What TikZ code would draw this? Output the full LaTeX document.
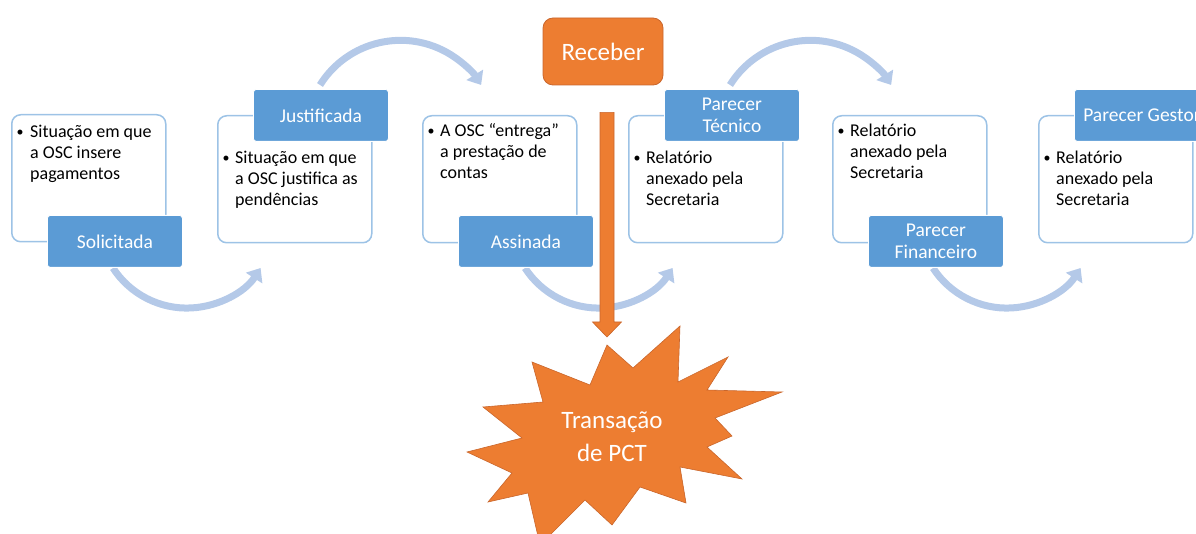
\documentclass[tikz,border=0pt]{standalone}
\usepackage{fontspec}
\setmainfont{Carlito}
\usetikzlibrary{arrows.meta,calc}
\definecolor{lblue}{HTML}{5B9BD5}
\definecolor{bline}{HTML}{9DC3E6}
\definecolor{flowc}{RGB}{180,201,232}
\definecolor{orng}{HTML}{ED7D31}
\definecolor{orngd}{HTML}{C9662C}
\begin{document}
\begin{tikzpicture}[x=1pt,y=-1pt,
 card/.style={draw=bline, line width=1.5pt, fill=white, rounded corners=9pt, minimum width=154pt, minimum height=127pt, inner sep=0pt, anchor=north west},
 tag/.style={draw=white, line width=0.8pt, fill=lblue, rounded corners=3pt, minimum width=135pt, minimum height=52pt, inner sep=0pt, anchor=north west, text=white, font=\fontsize{19.5}{22}\selectfont, align=center},
 body/.style={anchor=north west, inner sep=0pt, align=left, font=\fontsize{18}{21}\selectfont},
 dot/.style={anchor=base, inner sep=0pt, font=\fontsize{14}{21}\selectfont},
 flow/.style={draw=flowc, line width=7pt, -{Triangle[width=19pt,length=12pt]}},
 recbox/.style={draw=orngd, line width=0.8pt, fill=orng, rounded corners=10pt, minimum width=120pt, minimum height=67pt, text=white, font=\fontsize{25}{30}\selectfont},
 startext/.style={text=white, align=center, font=\fontsize{25}{33}\selectfont, inner sep=0pt}
]
\useasboundingbox (0,0) rectangle (1196,534);
\clip (0,0) rectangle (1196,534);

% cards (positions)
\coordinate (c1) at (11,114);
\coordinate (c2) at (217,115);
\coordinate (c3) at (422,115);
\coordinate (c4) at (628,115);
\coordinate (c5) at (832,115);
\coordinate (c6) at (1038,115);

% label nodes first defined for arcs (drawn later on top)
\path (c1) ++(36,101) coordinate (p1);
\path (c2) ++(36,-26) coordinate (p2);
\path (c3) ++(36,100) coordinate (p3);
\path (c4) ++(36,-26) coordinate (p4);
\path (c5) ++(36,100) coordinate (p5);
\path (c6) ++(36,-26) coordinate (p6);

% flow arcs
\draw[flow] ($(p1)+(66,53)$) arc[start angle=213,end angle=327,radius=88pt];
\draw[flow] ($(p2)+(67,-4)$) arc[start angle=148,end angle=32,radius=95pt];
\draw[flow] ($(p3)+(67,53)$) arc[start angle=213,end angle=327,radius=88pt];
\draw[flow] ($(p4)+(66,-4)$) arc[start angle=148,end angle=32,radius=95pt];
\draw[flow] ($(p5)+(65,53)$) arc[start angle=213,end angle=327,radius=88pt];

% cards
\node[card] (b1) at (c1) {};
\node[card] (b2) at (c2) {};
\node[card] (b3) at (c3) {};
\node[card] (b4) at (c4) {};
\node[card] (b5) at (c5) {};
\node[card] (b6) at (c6) {};

% bullets and texts
\node[dot] (d1) at ($(b1.north west)+(9,23)$) {\textbullet};
\node[body] (t1) at ($(b1.north west)+(19,8.3)$) {\strut Situação em que\\a OSC insere\\pagamentos};
\node[dot] (d2) at ($(b2.north west)+(9,48)$) {\textbullet};
\node[body] (t2) at ($(b2.north west)+(18,33.3)$) {\strut Situação em que\\a OSC justifica as\\pendências};
\node[dot] (d3) at ($(b3.north west)+(9,21)$) {\textbullet};
\node[body] (t3) at ($(b3.north west)+(18,6.3)$) {\strut A OSC “entrega”\\a prestação de\\contas};
\node[dot] (d4) at ($(b4.north west)+(9,48)$) {\textbullet};
\node[body] (t4) at ($(b4.north west)+(18,33.3)$) {\strut Relatório\\anexado pela\\Secretaria};
\node[dot] (d5) at ($(b5.north west)+(9,21)$) {\textbullet};
\node[body] (t5) at ($(b5.north west)+(18,6.3)$) {\strut Relatório\\anexado pela\\Secretaria};
\node[dot] (d6) at ($(b6.north west)+(9,48)$) {\textbullet};
\node[body] (t6) at ($(b6.north west)+(18,33.3)$) {\strut Relatório\\anexado pela\\Secretaria};

% labels
\node[tag] (l1) at (p1) {Solicitada};
\node[tag] (l2) at (p2) {Justificada};
\node[tag] (l3) at (p3) {Assinada};
\node[tag] (l4) at (p4) {Parecer\\Técnico};
\node[tag] (l5) at (p5) {Parecer\\Financeiro};
\node[tag] (l6) at (p6) {Parecer Gestor};

% Receber
\node[recbox] (rec) at (603,51.5) {Receber};

% star
\coordinate (stip) at (607,345);
\filldraw[fill=orng, draw=orngd, line width=0.6pt]
 (stip) -- (633,368) -- (680,326) -- (678,382) -- (728,357) -- (707,390)
 -- (782,392) -- (715,418) -- (732,436) -- (707,447) -- (742,479)
 -- (680,467) -- (686,503) -- (640,487) -- (612,525) -- (585,500)
 -- (540,545) -- (528,493) -- (488,502) -- (512,473) -- (467,452)
 -- (522,438) -- (483,407) -- (543,402) -- (532,362) -- (590,385) -- cycle;
\node[startext] (pct) at (612,437) {Transação\\de PCT};

% orange arrow
\coordinate (aS) at ($(rec.south)+(4,27)$);
\coordinate (aE) at ($(stip)+(0,-8)$);
\filldraw[fill=orng, draw=orngd, line width=0.6pt]
 ($(aS)+(-7,0)$) -- ($(aE)+(-7,-15)$) -- ($(aE)+(-14.5,-15)$) -- (aE)
 -- ($(aE)+(14.5,-15)$) -- ($(aE)+(7,-15)$) -- ($(aS)+(7,0)$) -- cycle;
\end{tikzpicture}
\end{document}
